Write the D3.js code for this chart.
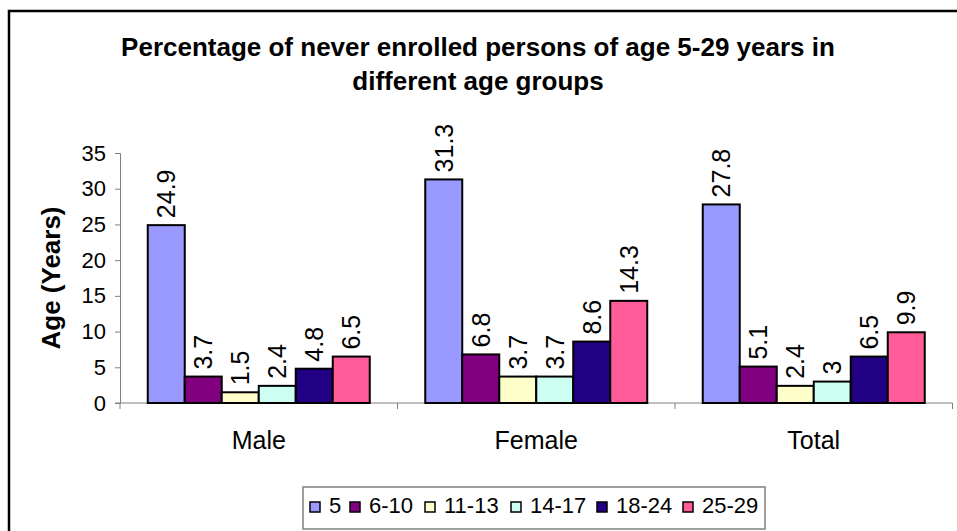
<!DOCTYPE html>
<html>
<head>
<meta charset="utf-8">
<script src="https://cdn.jsdelivr.net/npm/d3@7"></script>
<style>
  body { margin: 0; background: #fff; }
  svg { display: block; font-family: "Liberation Sans", Arial, sans-serif; }
</style>
</head>
<body>
<svg id="chart" width="957" height="531"></svg>
<script>
// chart data
var categories = ['Male', 'Female', 'Total'];
var ageGroups = ['5', '6-10', '11-13', '14-17', '18-24', '25-29'];
var male = [24.9, 3.7, 1.5, 2.4, 4.8, 6.5];
var female = [31.3, 6.8, 3.7, 3.7, 8.6, 14.3];
var total = [27.8, 5.1, 2.4, 3, 6.5, 9.9];
var yTicks = [0, 5, 10, 15, 20, 25, 30, 35];
var colors = ['#9999ff', '#800080', '#ffffcc', '#ccfff2', '#220084', '#ff5c99'];

var seriesByCat = [male, female, total];

var svg = d3.select('#chart');

// outer frame (right and bottom edges run off the page)
svg.append('path')
  .attr('d', 'M9,560V11H990')
  .attr('fill', 'none')
  .attr('stroke', '#000')
  .attr('stroke-width', 2.5);

// title
var title = svg.append('text')
  .attr('text-anchor', 'middle')
  .attr('font-weight', 'bold')
  .attr('font-size', '26px');
title.append('tspan').attr('x', 478).attr('y', 56)
  .text('Percentage of never enrolled persons of age 5-29 years in');
title.append('tspan').attr('x', 478).attr('y', 90)
  .text('different age groups');

var plot = { left: 120, right: 952.5, top: 153, bottom: 403 };

var x0 = d3.scaleBand()
  .domain(categories)
  .range([plot.left, plot.right]);

// each group: 6 bars with 0.75 bar width of gap on each side
var x1 = d3.scaleBand()
  .domain(ageGroups)
  .range([0, x0.bandwidth()])
  .paddingOuter(0.75);

var y = d3.scaleLinear().domain([0, 35]).range([plot.bottom, plot.top]);

// y axis
var yAxis = d3.axisLeft(y).tickValues(yTicks).tickSize(5).tickPadding(9);
var gy = svg.append('g')
  .attr('transform', 'translate(' + plot.left + ',0)')
  .call(yAxis);
gy.select('.domain').attr('stroke', '#808080');
gy.selectAll('.tick line').attr('stroke', '#808080');
gy.selectAll('.tick text')
  .attr('font-size', '22px')
  .attr('font-family', '"Liberation Sans", Arial, sans-serif')
  .attr('fill', '#000');

// x axis
var gx = svg.append('g')
  .attr('transform', 'translate(0,' + plot.bottom + ')');
gx.append('line')
  .attr('x1', plot.left - 5).attr('x2', plot.right)
  .attr('stroke', '#808080');
gx.selectAll('.sep')
  .data(categories.map(function(c) { return x0(c); }).concat([plot.right]))
  .enter().append('line')
  .attr('class', 'sep')
  .attr('x1', function(d) { return d; })
  .attr('x2', function(d) { return d; })
  .attr('y1', 0).attr('y2', 6)
  .attr('stroke', '#808080');
gx.selectAll('.cat')
  .data(categories)
  .enter().append('text')
  .attr('class', 'cat')
  .attr('x', function(d) { return x0(d) + x0.bandwidth() / 2; })
  .attr('y', 46)
  .attr('text-anchor', 'middle')
  .attr('font-size', '25px')
  .text(function(d) { return d; });

// y axis title
svg.append('text')
  .attr('transform', 'translate(60,278) rotate(-90)')
  .attr('text-anchor', 'middle')
  .attr('font-weight', 'bold')
  .attr('font-size', '26px')
  .text('Age (Years)');

// bars
var groups = svg.selectAll('.grp')
  .data(categories)
  .enter().append('g')
  .attr('class', 'grp')
  .attr('transform', function(d) { return 'translate(' + x0(d) + ',0)'; });

groups.selectAll('rect')
  .data(function(d, i) {
    return seriesByCat[i].map(function(v, j) { return { key: ageGroups[j], value: v, color: colors[j] }; });
  })
  .enter().append('rect')
  .attr('x', function(d) { return x1(d.key); })
  .attr('y', function(d) { return y(d.value); })
  .attr('width', x1.bandwidth())
  .attr('height', function(d) { return plot.bottom - y(d.value); })
  .attr('fill', function(d) { return d.color; })
  .attr('stroke', '#000')
  .attr('stroke-width', 2);

groups.selectAll('.val')
  .data(function(d, i) {
    return seriesByCat[i].map(function(v, j) { return { key: ageGroups[j], value: v }; });
  })
  .enter().append('text')
  .attr('class', 'val')
  .attr('transform', function(d) {
    return 'translate(' + (x1(d.key) + x1.bandwidth() / 2 + 9) + ',' + (y(d.value) - 7) + ') rotate(-90)';
  })
  .attr('font-size', '25px')
  .text(function(d) { return d.value; });

// legend
var legend = svg.append('g').attr('transform', 'translate(303,487)');
legend.append('rect')
  .attr('width', 462).attr('height', 42)
  .attr('fill', '#fff')
  .attr('stroke', '#808080')
  .attr('stroke-width', 1.5);

var legendX = [7, 47, 122, 208, 294, 380];
var items = legend.selectAll('.item')
  .data(ageGroups)
  .enter().append('g')
  .attr('class', 'item')
  .attr('transform', function(d, i) { return 'translate(' + legendX[i] + ',0)'; });
items.append('rect')
  .attr('x', 0).attr('y', 15)
  .attr('width', 10).attr('height', 10)
  .attr('fill', function(d, i) { return colors[i]; })
  .attr('stroke', '#000')
  .attr('stroke-width', 1.5);
items.append('text')
  .attr('x', 19).attr('y', 26)
  .attr('font-size', '22px')
  .text(function(d) { return d; });
</script>
</body>
</html>
